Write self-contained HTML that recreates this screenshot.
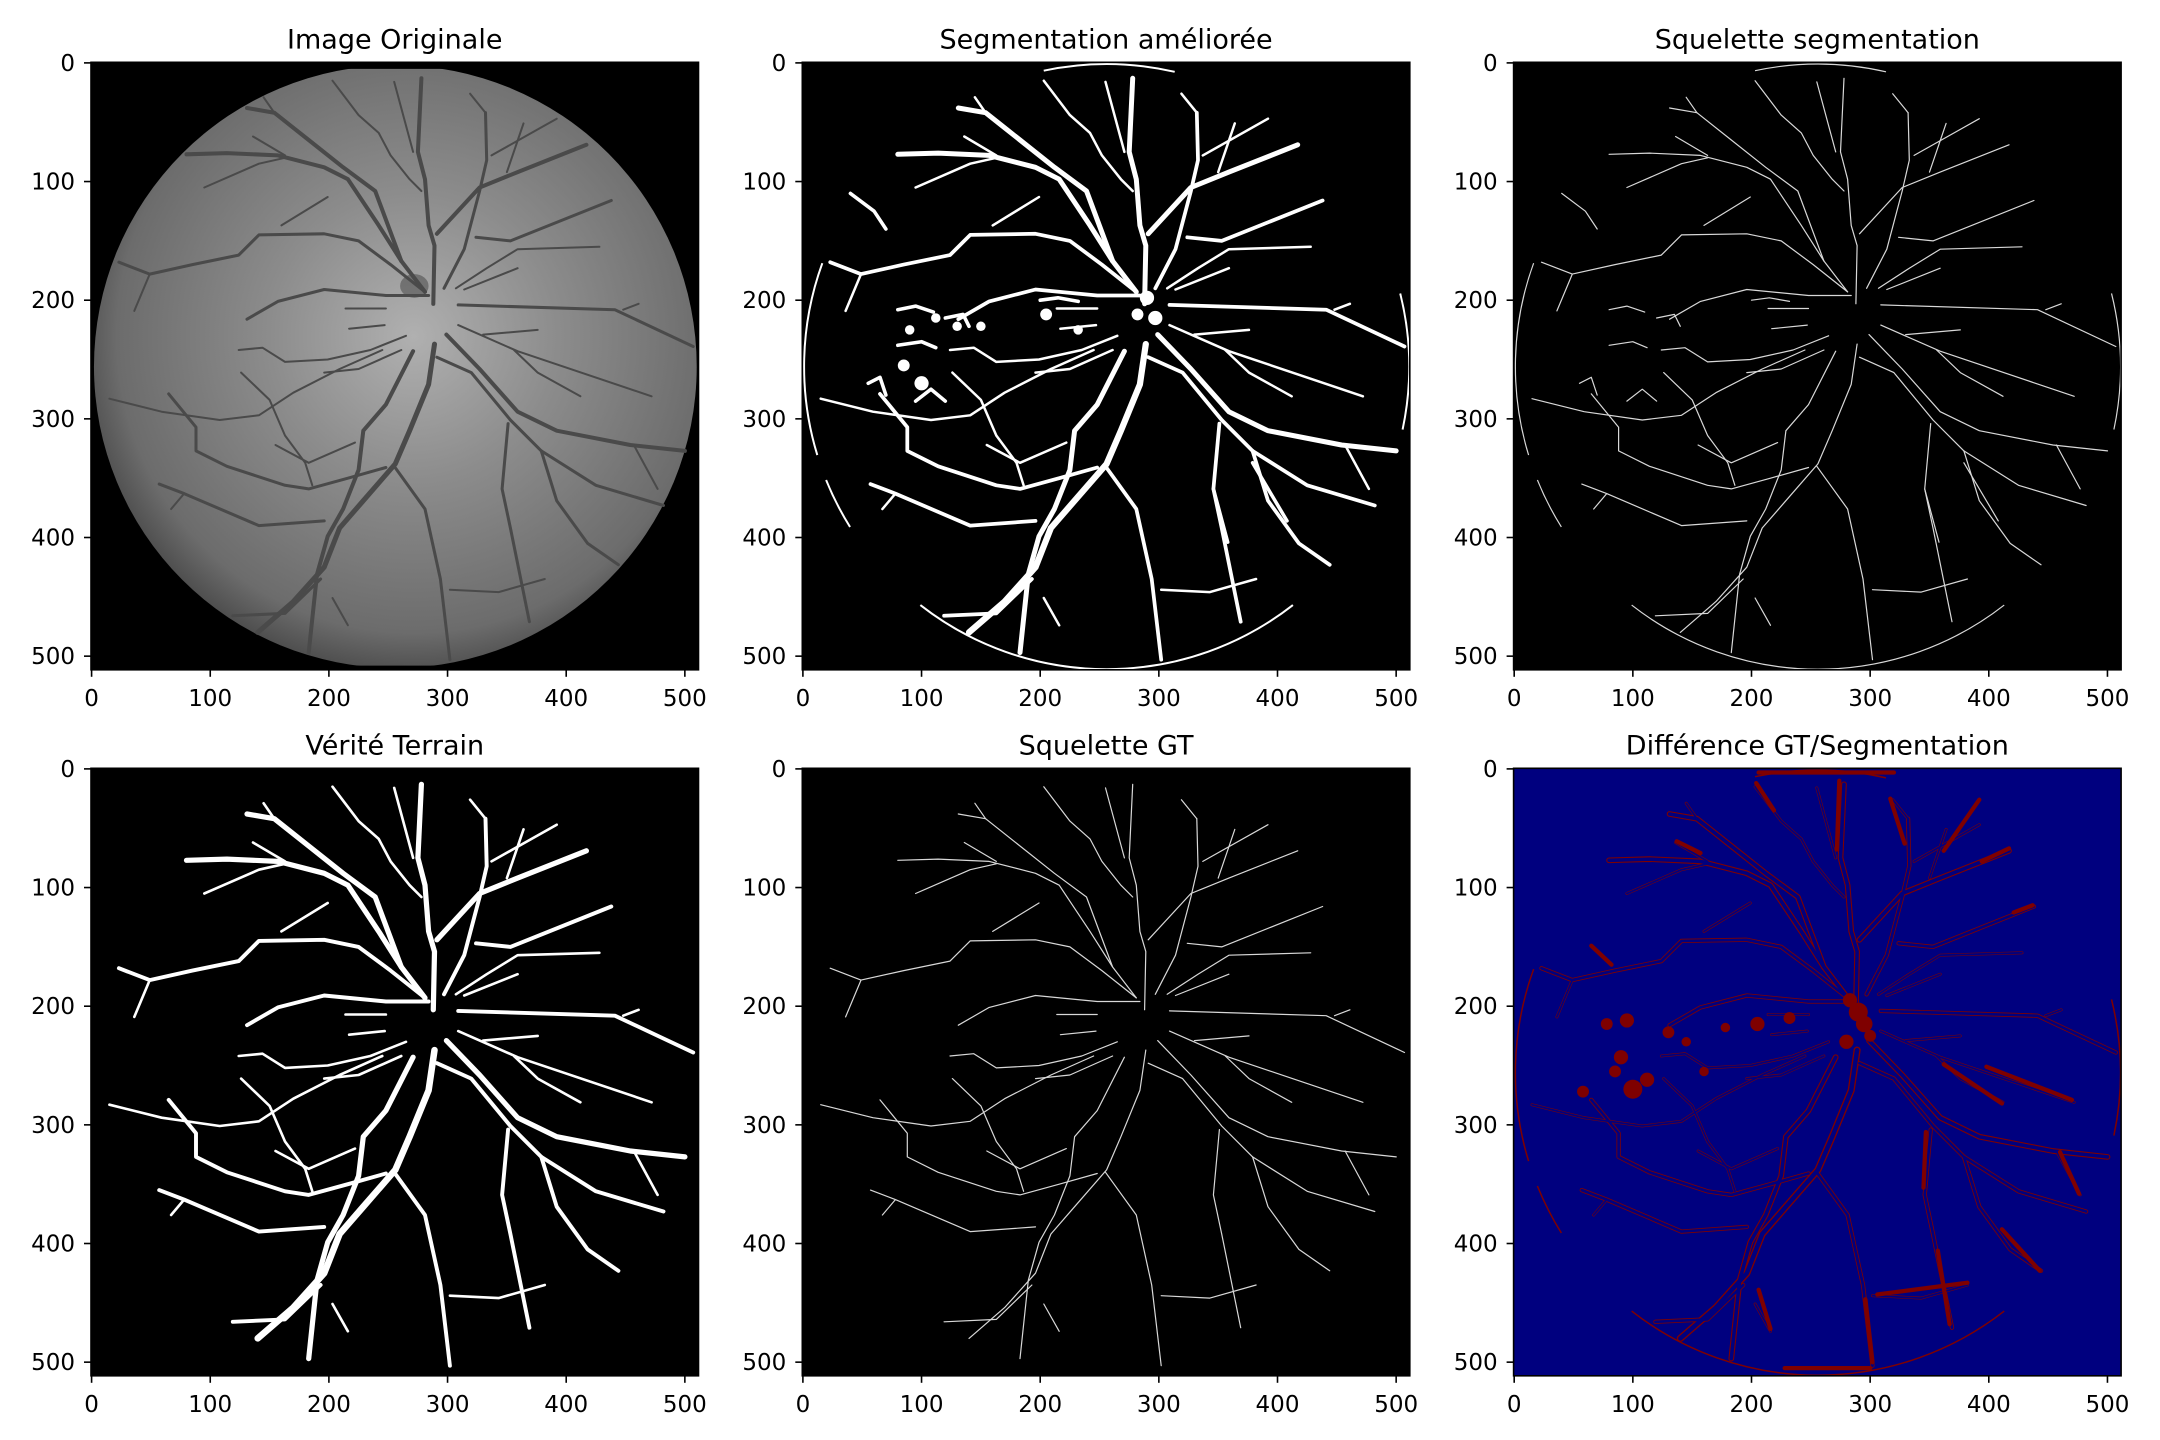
<!DOCTYPE html>
<html><head><meta charset="utf-8"><style>
html,body{margin:0;padding:0;background:#fff;}
svg{display:block;font-family:"DejaVu Sans","Liberation Sans",sans-serif;}
</style></head><body>
<svg id="fig" width="2160" height="1440" viewBox="0 0 2160 1440" xmlns="http://www.w3.org/2000/svg">
<defs>
<radialGradient id="fundus" cx="0.53" cy="0.45" r="0.6">
<stop offset="0" stop-color="#b0b0b0"/><stop offset="0.4" stop-color="#8c8c8c"/><stop offset="0.82" stop-color="#6c6c6c"/><stop offset="1" stop-color="#3c3c3c"/>
</radialGradient>
</defs>
</svg>
<script>
// ---- data (image coordinates, 0..512) ----
const panelTitles = ["Image Originale","Segmentation améliorée","Squelette segmentation","Vérité Terrain","Squelette GT","Différence GT/Segmentation"];
const tickValues = [0,100,200,300,400,500];
const tickLabels = ["0","100","200","300","400","500"];
const vesselPaths = [
 [[289,237],[284,271],[268,310],[256,338],[229,369],[209,392],[196,425],[170,454],[140,480]],
 [[271,243],[248,288],[229,310],[225,343],[212,376],[199,399],[190,431],[183,497]],
 [[255,340],[281,376],[294,435],[302,503]],
 [[302,444],[343,446],[382,435]],
 [[193,435],[163,464],[119,466]],
 [[203,451],[216,474]],
 [[288,203],[289,154],[284,137],[281,98],[275,75],[278,13]],
 [[271,75],[255,16]],
 [[281,193],[261,167],[242,137],[216,98],[196,88],[157,78],[114,76],[80,77]],
 [[261,167],[239,108],[212,88],[183,65],[154,42],[131,38]],
 [[154,42],[145,29]],
 [[203,15],[225,44],[242,59],[252,78],[268,98],[278,108]],
 [[284,196],[248,196],[196,191],[157,201],[131,216]],
 [[281,193],[252,170],[225,150],[196,144],[141,145],[124,162],[85,170],[49,178],[23,168]],
 [[49,178],[36,209]],
 [[160,137],[199,113]],
 [[95,105],[141,85],[163,80]],
 [[136,62],[163,78]],
 [[297,190],[314,157],[327,108],[333,82],[332,42]],
 [[332,42],[319,26]],
 [[291,144],[327,105],[359,92],[417,69]],
 [[337,78],[392,47]],
 [[350,92],[364,51]],
 [[324,147],[353,150],[438,116]],
 [[307,190],[333,173],[359,157],[428,155]],
 [[314,191],[359,173]],
 [[309,204],[441,208],[507,239]],
 [[448,208],[461,203]],
 [[309,221],[359,243],[472,281]],
 [[330,229],[376,225]],
 [[356,242],[376,261],[412,281]],
 [[299,229],[327,258],[359,294],[392,310],[454,322],[500,327]],
 [[457,322],[477,359]],
 [[291,248],[320,261],[353,301],[379,327],[425,356],[482,373]],
 [[379,327],[392,369],[418,405],[444,423]],
 [[351,304],[346,359],[353,392],[369,471]],
 [[261,242],[225,258],[196,261]],
 [[265,230],[235,242],[199,250],[163,252],[144,240],[124,242]],
 [[245,242],[209,258],[170,278],[141,297],[108,301],[59,294],[15,283]],
 [[126,261],[150,284],[163,314],[180,337],[186,356]],
 [[65,279],[88,307],[88,327],[114,340],[163,356],[183,359],[216,350],[248,341]],
 [[155,322],[183,337],[222,320]],
 [[57,355],[78,363],[141,390],[196,386]],
 [[78,363],[67,376]],
 [[214,207],[248,207]],
 [[217,224],[247,221]]
];
const vesselWidths = [5,4,3,2,3,2,4,2,4,4,2,2,3,3,2,2,2,2,3,2,4,2,2,3,2,2,3,2,2,2,2,4,2,3,3,3,2,2,2,2,3,2,3,2,2,2];
const segExtraPaths = [
 [[346,359],[358,404]],
 [[379,337],[408,386]],
 [[40,110],[60,125],[70,140]],
 [[80,208],[95,205],[110,210]],
 [[80,238],[100,235],[112,240]],
 [[55,270],[65,265],[70,280]],
 [[200,200],[215,198],[232,201]],
 [[120,215],[135,212],[140,222]],
 [[95,285],[108,275],[120,285]]
];
const segBlobs = [[100,270,6],[85,255,5],[112,215,4],[130,222,4],[205,212,5],[232,225,4],[290,198,6],[297,215,6],[282,212,5],[90,225,4],[150,222,4]];
const diffThick = [
 [[274,10],[272,68]],[[317,25],[329,63]],[[392,26],[362,69]],[[417,67],[394,78]],[[437,115],[421,121]],
 [[470,279],[398,251]],[[411,282],[362,249]],[[347,306],[345,353]],[[460,323],[476,358]],[[411,388],[443,423]],
 [[357,406],[367,468]],[[306,443],[382,433]],[[296,447],[302,500]],[[206,439],[216,472]],[[65,149],[82,165]],
 [[204,12],[219,35]],[[137,61],[157,71]],[[206,3],[320,3]],[[228,505],[300,505]]
];
const diffBlobs = [[290,205,8],[295,215,7],[283,195,6],[300,225,5],[280,230,6],[100,270,8],[112,262,6],[85,255,5],[78,215,5],[95,212,6],[130,222,5],[145,230,4],[205,215,6],[232,210,5],[178,218,4],[90,243,6],[58,272,5],[160,255,4]];

// ---- layout ----
const lefts = [91, 802.3, 1513.6], tops = [62.3, 768.3], S = 607.5, N = 512;
const k = S / N;
const svg = document.getElementById('fig');
const NS = 'http://www.w3.org/2000/svg';
function mk(tag, attrs, parent){ const e=document.createElementNS(NS,tag); for(const a in attrs) e.setAttribute(a,attrs[a]); (parent||svg).appendChild(e); return e; }
function sx(L,v){ return L + (v+0.5)*k; }
function sy(T,v){ return T + (v+0.5)*k; }
function pathD(L,T,pts){ return pts.map((p,i)=>(i?'L':'M')+sx(L,p[0]).toFixed(1)+' '+sy(T,p[1]).toFixed(1)).join(' '); }

function drawVessels(g,L,T,paths,widths,color,scale,minW){
  paths.forEach((pts,i)=>{
    const w = Math.max(minW, (widths? widths[i]:2)*scale*k);
    const p = mk('path',{d:pathD(L,T,pts),fill:'none',stroke:color,'stroke-width':w,'stroke-linecap':'round','stroke-linejoin':'round'},g);
    
    
  });
}
function arcs(g,L,T,color,w){
  const cx=sx(L,256), cy=sy(T,256), r=255*k;
  [[52,128],[163,200],[-14,12],[258,283],[148,158]].forEach(a=>{
    const a0=a[0]*Math.PI/180, a1=a[1]*Math.PI/180;
    const x0=cx+r*Math.cos(a0), y0=cy+r*Math.sin(a0), x1=cx+r*Math.cos(a1), y1=cy+r*Math.sin(a1);
    const p=mk('path',{d:`M${x0} ${y0} A${r} ${r} 0 0 1 ${x1} ${y1}`,fill:'none',stroke:color,'stroke-width':w},g);
    
    
  });
}

for(let idx=0; idx<6; idx++){
  const L = lefts[idx%3], T = tops[Math.floor(idx/3)];
  const g = mk('g',{});
  
  
  const clipId='clip'+idx;
  const cp=mk('clipPath',{id:clipId},g); mk('rect',{x:L,y:T,width:S,height:S},cp);
  const inner = mk('g',{'clip-path':`url(#${clipId})`},g);
  const bg = mk('rect',{x:L,y:T,width:S,height:S,fill: idx===5?'#00007f':'#000'},inner);
  
  
  if(idx===0){
    const fcp=mk('clipPath',{id:'fclip'},g); mk('rect',{x:L,y:sy(T,5),width:S,height:503*k},fcp);
    const disk=mk('circle',{cx:sx(L,256),cy:sy(T,256),r:254*k,fill:'url(#fundus)','clip-path':'url(#fclip)'},inner);
    
    
    const od=mk('ellipse',{cx:sx(L,272),cy:sy(T,188),rx:12*k,ry:10*k,fill:'#404040',opacity:0.5},inner);
    
    
    drawVessels(inner,L,T,vesselPaths,vesselWidths,'#4a4a4a',0.85,1.5);
  } else if(idx===1){
    drawVessels(inner,L,T,vesselPaths,vesselWidths,'#fff',1.05,2);
    drawVessels(inner,L,T,segExtraPaths,null,'#fff',1.5,2);
    segBlobs.forEach(b=>{ const c=mk('circle',{cx:sx(L,b[0]),cy:sy(T,b[1]),r:b[2]*k,fill:'#fff'},inner);   });
    arcs(inner,L,T,'#fff',2);
  } else if(idx===2){
    drawVessels(inner,L,T,vesselPaths,null,'#d8d8d8',0.4,1.2);
    drawVessels(inner,L,T,segExtraPaths,null,'#d8d8d8',0.4,1.2);
    arcs(inner,L,T,'#d8d8d8',1.2);
  } else if(idx===3){
    drawVessels(inner,L,T,vesselPaths,vesselWidths,'#fff',1.1,2);
  } else if(idx===4){
    drawVessels(inner,L,T,vesselPaths,null,'#d8d8d8',0.4,1.2);
  } else {
    drawVessels(inner,L,T,vesselPaths,vesselWidths,'#7f0000',1.2,2.5);
    drawVessels(inner,L,T,vesselPaths,vesselWidths,'#00007f',0.75,1.2);
    drawVessels(inner,L,T,diffThick,null,'#7f0000',1.8,3);
    diffBlobs.forEach(b=>{ const c=mk('circle',{cx:sx(L,b[0]),cy:sy(T,b[1]),r:b[2]*k,fill:'#7f0000'},inner);   });
    arcs(inner,L,T,'#7f0000',1.5);
  }
  const frame = mk('rect',{x:L,y:T,width:S,height:S,fill:'none',stroke:'#000','stroke-width':1.6},g);
  
  
  const t = mk('text',{x:L+S/2,y:T-14,'text-anchor':'middle','font-size':27,fill:'#000'},g);
  t.textContent = panelTitles[idx];
  
  
  tickValues.forEach((v,i)=>{
    const X = sx(L,v), Y = sy(T,v);
    mk('line',{x1:X,y1:T+S,x2:X,y2:T+S+7,stroke:'#000','stroke-width':1.6},g);
    const xl = mk('text',{x:X,y:T+S+36,'text-anchor':'middle','font-size':23,fill:'#000'},g);
    xl.textContent = tickLabels[i];
    
    
    mk('line',{x1:L,y1:Y,x2:L-7,y2:Y,stroke:'#000','stroke-width':1.6},g);
    const yl = mk('text',{x:L-16,y:Y+8,'text-anchor':'end','font-size':23,fill:'#000'},g);
    yl.textContent = tickLabels[i];
    
    
  });
}
</script>
</body></html>
